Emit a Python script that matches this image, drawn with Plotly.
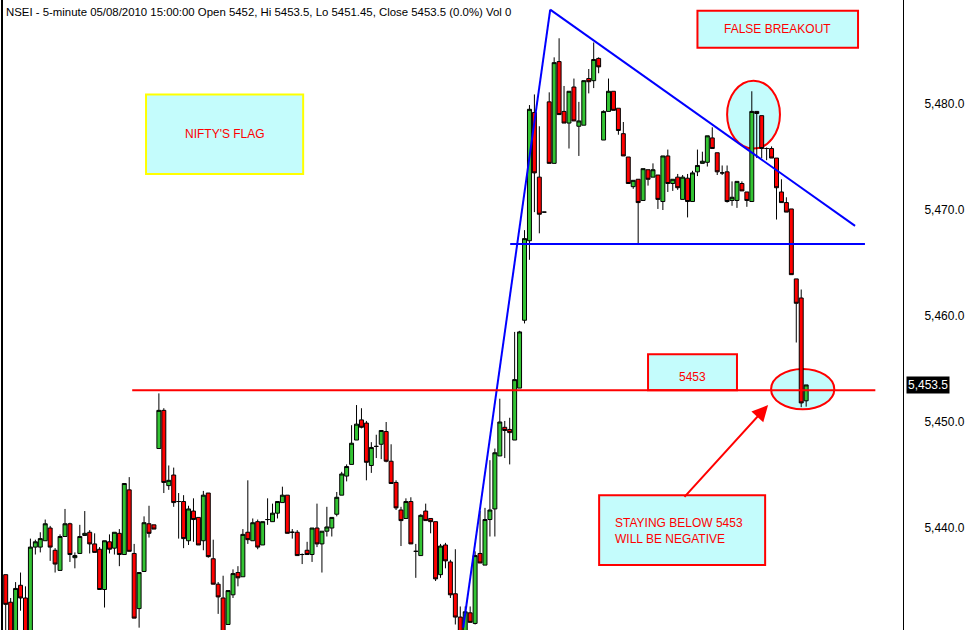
import plotly.graph_objects as go

# ---------------- data ----------------
opens = [5435.6,5433.0,5429.8,5434.6,5433.4,5429.8,5438.2,5438.2,5438.8,5440.0,
         5437.9,5436.0,5439.2,5440.4,5437.2,5437.6,5439.3,5439.6,5438.5,5438.0,
         5434.2,5438.7,5438.1,5439.5,5437.5,5443.6,5437.6,5432.4,5435.9,5440.4,
         5440.3,5447.5,5451.1,5444.0,5445.0,5442.5,5442.5,5438.8,5441.6,5441.0,
         5438.8,5443.3,5437.1,5434.7,5433.4,5430.9,5433.7,5435.8,5435.4,5439.6,
         5438.8,5440.6,5438.4,5440.8,5440.6,5441.4,5442.4,5443.1,5439.6,5439.6,
         5437.5,5437.9,5437.5,5440.0,5438.5,5439.7,5440.0,5441.3,5443.1,5444.9,
         5446.0,5448.3,5450.2,5449.9,5445.9,5447.7,5447.9,5449.1,5446.3,5444.3,
         5441.7,5440.9,5442.5,5437.8,5437.4,5441.6,5440.9,5440.6,5435.6,5438.4,
         5436.8,5433.8,5431.6,5429.5,5432.0,5431.0,5437.6,5436.5,5440.8,5441.8,
         5446.8,5449.5,5449.3,5448.3,5453.2,5459.6,5467.1,5479.2,5473.1,5469.8,
         5480.2,5474.4,5484.0,5479.3,5478.2,5481.6,5477.9,5478.0,5482.4,5482.2,
         5484.3,5476.6,5479.3,5481.2,5479.6,5477.2,5475.0,5472.2,5472.9,5470.9,
         5473.8,5473.1,5473.3,5470.8,5475.1,5472.5,5473.1,5471.0,5473.0,5470.8,
         5473.6,5474.4,5474.5,5476.8,5475.4,5473.5,5473.6,5470.9,5470.9,5472.5,
         5471.7,5470.8,5479.3,5478.9,5475.8,5475.8,5474.9,5471.7,5470.7,5470.1,
         5463.5,5461.7,5452.0]
highs = [5435.6,5433.4,5434.9,5435.8,5434.5,5439.0,5438.9,5439.6,5440.8,5440.2,
         5438.1,5439.4,5441.8,5440.5,5437.7,5440.3,5441.6,5439.8,5439.5,5438.2,
         5438.8,5439.4,5439.6,5439.9,5444.2,5444.8,5438.5,5435.8,5441.1,5442.1,
         5440.3,5452.7,5451.3,5445.9,5445.7,5443.3,5443.1,5442.1,5442.8,5441.0,
         5443.5,5443.3,5438.9,5434.9,5435.5,5434.1,5436.1,5436.4,5439.9,5444.5,
         5440.9,5440.8,5440.6,5442.8,5442.3,5442.5,5443.9,5443.1,5439.9,5439.8,
         5437.6,5438.7,5440.0,5442.3,5439.7,5442.0,5441.0,5443.4,5445.3,5446.0,
         5449.7,5451.6,5451.3,5450.1,5448.1,5448.8,5449.2,5450.0,5447.9,5444.5,
         5442.0,5442.8,5442.9,5438.5,5441.3,5442.3,5440.9,5440.6,5438.5,5438.6,
         5437.0,5438.0,5432.6,5432.6,5432.6,5437.8,5441.6,5441.9,5446.4,5447.5,
         5452.2,5450.1,5450.4,5458.5,5458.6,5468.1,5479.9,5480.9,5477.9,5469.8,
         5481.1,5484.4,5486.2,5481.7,5481.2,5482.4,5480.2,5482.2,5483.3,5485.8,
         5484.4,5479.4,5482.4,5481.2,5479.6,5478.3,5475.0,5472.8,5472.9,5473.9,
         5473.8,5474.4,5473.3,5475.1,5475.7,5472.9,5473.4,5473.3,5473.4,5473.7,
         5475.7,5475.5,5477.0,5477.8,5475.4,5474.2,5474.2,5472.7,5472.7,5472.7,
         5471.7,5481.2,5479.3,5478.9,5475.9,5476.0,5474.9,5472.9,5471.2,5470.1,
         5463.5,5462.5,5453.5]
lows = [5429.5,5428.5,5429.5,5432.2,5429.0,5429.5,5437.5,5437.7,5438.8,5436.9,
        5435.8,5436.0,5439.2,5436.8,5436.2,5437.6,5439.3,5437.6,5437.7,5434.2,
        5432.5,5437.6,5437.5,5436.4,5437.5,5437.8,5431.5,5430.6,5435.9,5439.1,
        5439.9,5447.5,5443.3,5443.6,5442.0,5439.0,5438.1,5438.4,5438.7,5438.4,
        5437.9,5437.2,5434.7,5431.9,5429.0,5430.9,5433.4,5434.5,5435.4,5438.5,
        5438.8,5438.0,5438.4,5440.3,5440.6,5440.9,5442.4,5439.5,5439.0,5437.4,
        5436.6,5437.5,5436.8,5438.2,5435.8,5439.2,5439.2,5441.1,5443.1,5444.4,
        5446.0,5448.3,5449.4,5444.5,5445.2,5446.6,5446.5,5446.2,5444.2,5441.7,
        5438.3,5440.9,5438.5,5435.3,5437.4,5440.7,5439.5,5435.0,5435.3,5436.2,
        5433.4,5430.9,5429.0,5429.2,5431.1,5430.9,5436.7,5436.5,5439.2,5439.2,
        5446.8,5446.6,5446.0,5448.3,5453.2,5459.3,5465.3,5469.8,5467.8,5469.8,
        5474.4,5474.4,5479.0,5478.2,5475.8,5478.4,5475.1,5478.0,5481.0,5481.5,
        5482.9,5476.6,5479.3,5479.4,5477.1,5475.1,5472.5,5472.0,5466.7,5470.9,
        5472.3,5473.1,5470.1,5470.0,5471.7,5471.8,5471.9,5471.0,5469.3,5470.8,
        5473.2,5474.4,5474.1,5475.8,5473.3,5473.3,5470.7,5470.4,5470.2,5471.8,
        5470.3,5470.8,5474.9,5474.9,5474.7,5474.9,5469.1,5470.7,5469.8,5463.9,
        5457.5,5451.4,5451.45]
closes = [5432.8,5429.5,5434.3,5433.4,5429.8,5438.2,5438.7,5439.0,5440.4,5438.2,
          5436.6,5439.2,5440.4,5437.5,5437.4,5439.2,5439.5,5438.5,5437.7,5434.2,
          5438.8,5438.0,5439.6,5437.5,5444.2,5437.8,5431.5,5435.8,5440.5,5439.5,
          5439.9,5451.1,5444.3,5444.5,5442.4,5442.5,5439.0,5441.8,5440.8,5438.4,
          5443.1,5437.3,5434.7,5433.5,5429.5,5434.1,5435.7,5435.3,5439.4,5438.9,
          5440.5,5438.2,5440.6,5440.8,5441.4,5442.5,5443.1,5439.5,5439.6,5437.4,
          5437.5,5437.5,5440.0,5438.5,5439.7,5440.1,5441.0,5442.9,5445.1,5445.8,
          5448.0,5449.8,5449.5,5446.2,5447.6,5447.7,5449.2,5446.3,5444.2,5441.9,
          5440.7,5442.5,5438.5,5437.8,5441.2,5440.7,5440.6,5435.2,5438.3,5436.9,
          5433.7,5431.6,5429.8,5432.1,5431.1,5437.4,5436.7,5440.8,5441.7,5447.1,
          5450.0,5449.2,5449.0,5454.0,5458.5,5467.3,5479.5,5473.5,5469.6,5469.8,
          5474.4,5483.9,5479.0,5478.2,5481.2,5478.4,5478.4,5482.2,5482.1,5484.2,
          5483.5,5479.3,5481.2,5479.4,5477.5,5475.1,5472.5,5472.8,5470.7,5473.9,
          5472.9,5473.8,5471.0,5475.1,5472.5,5472.9,5472.1,5473.1,5470.8,5473.5,
          5474.2,5474.6,5477.0,5475.8,5473.6,5473.5,5470.8,5471.2,5472.7,5471.8,
          5470.9,5479.3,5479.1,5475.8,5475.8,5474.9,5472.1,5470.7,5469.8,5463.9,
          5461.2,5451.8,5453.5]
bar_index = list(range(len(closes)))

y_ticks = [5440, 5450, 5460, 5470, 5480]
last_price = 5453.5
title_text = ("NSEI - 5-minute 05/08/2010 15:00:00 Open 5452, Hi 5453.5, "
              "Lo 5451.45, Close 5453.5 (0.0%) Vol 0")

# drawn annotations (bar index, price)
rise_line = [(92.6, 5430.6), (110.2, 5488.9)]
fall_line = [(110.2, 5488.9), (171.9, 5468.5)]
support_line = [(102.1, 5466.8), (173.9, 5466.8)]
level_line = [(25.6, 5453.0), (176.0, 5453.0)]
flag_box = [(28.4, 5480.9), (60.2, 5473.4)]
false_box = [(140.0, 5488.8), (172.5, 5485.3)]
level_box = [(130.0, 5456.4), (148.0, 5453.0)]
note_box = [(120.1, 5443.1), (153.7, 5436.5)]
ellipse_top = [(146.0, 5482.2), (156.7, 5475.8)]
ellipse_bottom = [(154.9, 5455.0), (167.7, 5451.2)]
arrow_pts = [(137.1, 5442.8), (154.3, 5451.6)]

FONT = "Liberation Sans, Arial, sans-serif"
CYAN = "#c4fcfc"

fig = go.Figure(go.Candlestick(
    x=bar_index, open=opens, high=highs, low=lows, close=closes,
    increasing=dict(line=dict(color="black", width=1), fillcolor="#33c433"),
    decreasing=dict(line=dict(color="black", width=1), fillcolor="#ff0000"),
    showlegend=False, hoverinfo="skip"))

def rect(pts, border, width=2):
    (x0, y0), (x1, y1) = pts
    fig.add_shape(type="rect", x0=x0, x1=x1, y0=y0, y1=y1, xref="x", yref="y",
                  line=dict(color=border, width=width), fillcolor=CYAN, layer="below")

def ell(pts):
    (x0, y0), (x1, y1) = pts
    fig.add_shape(type="circle", x0=x0, x1=x1, y0=y0, y1=y1, xref="x", yref="y",
                  line=dict(color="#ff0000", width=2), fillcolor=CYAN, layer="below")

def seg(pts, color):
    (x0, y0), (x1, y1) = pts
    fig.add_shape(type="line", x0=x0, x1=x1, y0=y0, y1=y1, xref="x", yref="y",
                  line=dict(color=color, width=2), layer="above")

rect(flag_box, "#ffff00")
rect(false_box, "#ff0000")
rect(level_box, "#ff0000")
rect(note_box, "#ff0000")
ell(ellipse_top)
ell(ellipse_bottom)
seg(rise_line, "#0000ff")
seg(fall_line, "#0000ff")
seg(support_line, "#0000ff")
seg(level_line, "#ff0000")

def label(pts, text, align="center"):
    (x0, y0), (x1, y1) = pts
    fig.add_annotation(x=(x0 + x1) / 2, y=(y0 + y1) / 2, xref="x", yref="y",
                       text=text, showarrow=False, align=align,
                       font=dict(family=FONT, size=12, color="#ff0000"))

label(flag_box, "NIFTY'S FLAG")
label(false_box, "FALSE BREAKOUT")
fig.add_annotation(x=(level_box[0][0] + level_box[1][0]) / 2, y=level_box[0][1],
                   xref="x", yref="y", yanchor="top", yshift=-14, text="5453",
                   showarrow=False, font=dict(family=FONT, size=12, color="#ff0000"))
fig.add_annotation(x=note_box[0][0], y=(note_box[0][1] + note_box[1][1]) / 2,
                   xref="x", yref="y", xanchor="left", xshift=14, yshift=-1,
                   text="STAYING BELOW 5453<br>WILL BE NEGATIVE", showarrow=False,
                   align="left", font=dict(family=FONT, size=12, color="#ff0000"))

(ax0, ay0), (ax1, ay1) = arrow_pts
fig.add_annotation(x=ax1, y=ay1, ax=ax0, ay=ay0, xref="x", yref="y",
                   axref="x", ayref="y", text="", showarrow=True,
                   arrowhead=2, arrowsize=1.6, arrowwidth=2, arrowcolor="#ff0000")

fig.add_annotation(x=0, y=1, xref="paper", yref="paper", xanchor="left",
                   yanchor="top", xshift=2, yshift=-4, text=title_text,
                   showarrow=False, font=dict(family=FONT, size=11.4, color="black"))

fig.add_annotation(x=1, y=last_price, xref="paper", yref="y", xanchor="left",
                   xshift=3, text=f"{last_price:,.1f}", showarrow=False,
                   bgcolor="black", borderpad=1,
                   font=dict(family=FONT, size=12, color="white"))

fig.add_shape(type="line", xref="paper", yref="paper", x0=0, x1=0, y0=0, y1=1,
              line=dict(color="black", width=2))

fig.update_layout(
    width=965, height=630,
    margin=dict(l=2, r=62, t=0, b=0),
    paper_bgcolor="white", plot_bgcolor="white",
    boxgap=0, boxgroupgap=0.2,
    showlegend=False,
    xaxis=dict(range=[-0.75, 181.6], showticklabels=False, showgrid=False,
               zeroline=False, showline=False, rangeslider=dict(visible=False),
               fixedrange=True),
    yaxis=dict(range=[5430.38, 5489.81], side="right", tickvals=y_ticks,
               tickformat=",.1f", showgrid=False, zeroline=False,
               showline=True, linecolor="black", linewidth=1, ticks="",
               ticklabelstandoff=18, fixedrange=True,
               tickfont=dict(family=FONT, size=12, color="black")),
)

fig.write_html("out.html",
               config={"displayModeBar": False},
               post_script="document.body.style.margin='0';"
                           "document.body.style.overflow='hidden';")
